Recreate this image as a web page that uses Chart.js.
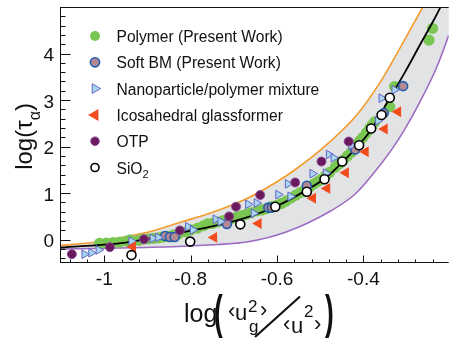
<!DOCTYPE html>
<html><head><meta charset="utf-8">
<script src="https://cdn.jsdelivr.net/npm/chart.js@4/dist/chart.umd.min.js"></script>
<style>html,body{margin:0;padding:0;background:#fff;}#wrap{width:455px;height:339px;position:relative;overflow:hidden}</style>
</head><body><div id="wrap"><canvas id="c" width="455" height="339"></canvas></div>
<script>
// ---------- data ----------
const polymerX = [-1.011,-0.995,-0.980,-0.964,-0.948,-0.940,-0.920,-0.910,-0.898,-0.886,-0.875,-0.864,-0.852,-0.840,-0.829,-0.811,-0.800,-0.784,-0.770,-0.761,-0.750,-0.738,-0.725,-0.715,-0.705,-0.693,-0.680,-0.670,-0.660,-0.647,-0.635,-0.624,-0.612,-0.601,-0.590,-0.579,-0.567,-0.556,-0.545,-0.533,-0.524,-0.515,-0.506,-0.497,-0.487,-0.478,-0.465,-0.456,-0.447,-0.437,-0.428,-0.420,-0.415,-0.408,-0.401,-0.393,-0.385,-0.380,-0.374,-0.339,-0.328,-0.248,-0.240];
const polymerY = [-0.08,-0.07,-0.06,-0.05,-0.03,0.00,-0.01,0.01,0.02,0.03,0.04,0.06,0.07,0.10,0.12,0.17,0.21,0.25,0.30,0.34,0.35,0.38,0.41,0.42,0.46,0.49,0.52,0.55,0.58,0.62,0.64,0.67,0.71,0.74,0.78,0.83,0.90,0.96,1.02,1.09,1.14,1.20,1.25,1.30,1.38,1.45,1.56,1.63,1.71,1.80,1.88,1.98,2.06,2.13,2.20,2.30,2.40,2.46,2.53,2.86,3.29,4.29,4.54];
const softBMX = [-0.859,-0.848,-0.837,-0.716,-0.620,-0.612,-0.531,-0.419,-0.353,-0.308];
const softBMY = [0.08,0.06,0.06,0.34,0.69,0.69,1.16,1.94,2.72,3.30];
const nanoX = [-1.046,-1.030,-1.013,-0.937,-0.888,-0.875,-0.806,-0.795,-0.742,-0.731,-0.667,-0.654,-0.647,-0.597,-0.575,-0.569,-0.518,-0.487,-0.480,-0.469,-0.428,-0.366,-0.358,-0.328];
const nanoY = [-0.31,-0.28,-0.22,-0.03,0.03,0.05,0.28,0.21,0.44,0.39,0.76,0.57,0.79,0.97,1.20,0.93,1.42,1.43,1.83,1.76,2.03,2.56,3.04,3.22];
const icoX = [-0.934,-0.746,-0.643,-0.517,-0.484,-0.441,-0.395,-0.351,-0.320];
const icoY = [-0.15,0.05,0.35,0.89,1.10,1.44,1.89,2.38,2.75];
const otpX = [-1.075,-0.987,-0.908,-0.825,-0.711,-0.695,-0.639,-0.558,-0.497,-0.434];
const otpY = [-0.31,-0.16,0.01,0.20,0.50,0.71,0.96,1.23,1.68,2.11];
const sio2X = [-0.937,-0.801,-0.685,-0.604,-0.531,-0.490,-0.449,-0.410,-0.382,-0.358,-0.339];
const sio2Y = [-0.33,-0.04,0.33,0.71,1.03,1.30,1.68,2.03,2.39,2.68,3.05];
const fitX = [-1.1025,-0.951,-0.829,-0.753,-0.677,-0.601,-0.533,-0.487,-0.449,-0.412,-0.381,-0.343,-0.305,-0.267,-0.237,-0.216];
const fitY = [-0.17,-0.06,0.14,0.28,0.46,0.72,1.06,1.33,1.66,2.02,2.38,2.98,3.58,4.22,4.72,5.1];
const upperX = [-1.1025,-1.027,-0.973,-0.8975,-0.822,-0.754,-0.677,-0.601,-0.556,-0.499,-0.419,-0.358,-0.305,-0.263,-0.255];
const upperY = [-0.125,-0.06,0.026,0.165,0.38,0.574,0.853,1.24,1.52,1.93,2.64,3.43,4.29,4.99,5.13];
const lowerX = [-1.1025,-0.966,-0.829,-0.738,-0.670,-0.579,-0.476,-0.419,-0.374,-0.335,-0.305,-0.267,-0.230,-0.2025];
const lowerY = [-0.20,-0.178,-0.146,-0.103,-0.05,0.165,0.617,0.982,1.455,1.93,2.36,3.0,3.71,4.39];
const xTickLabels = [-1, -0.8, -0.6, -0.4];
const yTickLabels = [0, 1, 2, 3, 4];
const legendLabels = ['Polymer (Present Work)','Soft BM (Present Work)','Nanoparticle/polymer mixture','Icosahedral glassformer','OTP','SiO'];
const legendSubs = ['','','','','','2'];

// ---------- axis ranges ----------
const xMin = -1.1025, xMax = -0.2025, yMin = -0.5, yMax = 5.0;

const FONT = '"Liberation Sans", Arial, Helvetica, sans-serif';
const pts = (xs, ys) => xs.map((x, i) => ({x, y: ys[i]}));

const ST = {
  polymer: {style:'circle', r:5.6, bg:'#7ac653', bc:'#7ac653', bw:0, rot:0, lr:5},
  softbm:  {style:'circle', r:4.5, bg:'#b38a91', bc:'#1f5cae', bw:1.6, rot:0, lr:4.6},
  nano:    {style:'triangle', r:5.0, bg:'#a6d7ee', bc:'#6664c8', bw:1, rot:90, lr:5.6},
  ico:     {style:'triangle', r:6.3, bg:'#f24c1e', bc:'#f24c1e', bw:0, rot:-90, lr:6.9},
  otp:     {style:'circle', r:4.5, bg:'#6a1a5c', bc:'#8d4e9c', bw:1, rot:0, lr:4.3},
  sio2:    {style:'circle', r:4.5, bg:'#ffffff', bc:'#000000', bw:1.6, rot:0, lr:4.0}
};

function scatterDs(label, data, s, order) {
  return {label, data, showLine:false, order,
    pointStyle:s.style, pointRadius:s.r, pointBackgroundColor:s.bg,
    pointBorderColor:s.bc, pointBorderWidth:s.bw, pointRotation:s.rot,
    backgroundColor:s.bg, borderColor:s.bc};
}

const bandData = pts(upperX, upperY)
  .concat([{x: xMax + 0.01, y: yMax + 0.2}])
  .concat(pts(lowerX, lowerY).reverse());

const datasets = [
  scatterDs('SiO2', pts(sio2X, sio2Y), ST.sio2, 0),
  scatterDs('OTP', pts(otpX, otpY), ST.otp, 1),
  scatterDs('Icosahedral glassformer', pts(icoX, icoY), ST.ico, 2),
  scatterDs('Nanoparticle/polymer mixture', pts(nanoX, nanoY), ST.nano, 3),
  scatterDs('Soft BM (Present Work)', pts(softBMX, softBMY), ST.softbm, 4),
  {label:'fit', data:pts(fitX, fitY), showLine:true, order:5, borderColor:'#000', borderWidth:1.8, pointRadius:0, cubicInterpolationMode:'monotone', fill:false},
  scatterDs('Polymer (Present Work)', pts(polymerX, polymerY), ST.polymer, 6),
  {label:'upper', data:pts(upperX, upperY), showLine:true, order:7, borderColor:'#f59a2c', borderWidth:1.6, pointRadius:0, cubicInterpolationMode:'monotone', fill:false},
  {label:'lower', data:pts(lowerX, lowerY), showLine:true, order:8, borderColor:'#9c6cc2', borderWidth:1.6, pointRadius:0, cubicInterpolationMode:'monotone', fill:false},
  {label:'band', data:bandData, showLine:true, order:9, borderColor:'rgba(0,0,0,0)', borderWidth:0.01, pointRadius:0, tension:0, backgroundColor:'#e2e3e5', fill:'shape'}
];

function drawMarker(ctx, s, x, y, r) {
  ctx.save();
  ctx.fillStyle = s.bg; ctx.strokeStyle = s.bc; ctx.lineWidth = s.bw || 0;
  ctx.beginPath();
  if (s.style === 'circle') {
    ctx.arc(x, y, r, 0, Math.PI * 2);
  } else {
    let rad = s.rot * Math.PI / 180;
    for (let k = 0; k < 3; k++) {
      const px = x + Math.sin(rad) * r, py = y - Math.cos(rad) * r;
      if (k === 0) ctx.moveTo(px, py); else ctx.lineTo(px, py);
      rad += 2 * Math.PI / 3;
    }
    ctx.closePath();
  }
  ctx.fill();
  if (s.bw) ctx.stroke();
  ctx.restore();
}

function tallParen(ctx, ch, x, cy) {
  ctx.save();
  ctx.translate(x, cy); ctx.scale(1.05, 1.85);
  ctx.font = 'bold 25px ' + FONT; ctx.textBaseline = 'middle'; ctx.textAlign = 'left';
  ctx.fillText(ch, 0, 0);
  ctx.restore();
}

const rootPlugin = {
  id: 'rootAxes',
  afterDraw(chart) {
    const {ctx, chartArea: a, scales: {x, y}} = chart;
    ctx.save();
    ctx.strokeStyle = '#111'; ctx.lineWidth = 1;
    ctx.beginPath();
    ctx.moveTo(a.left + 0.5, a.top); ctx.lineTo(a.left + 0.5, a.bottom);
    ctx.moveTo(a.left, a.bottom - 0.5); ctx.lineTo(a.right, a.bottom - 0.5);
    ctx.moveTo(a.left, a.top + 0.5); ctx.lineTo(a.right, a.top + 0.5);
    for (let k = Math.ceil(xMin / 0.04); k <= Math.floor(xMax / 0.04); k++) {
      const px = Math.round(x.getPixelForValue(k * 0.04)) + 0.5;
      const len = (k % 5 === 0) ? 7.5 : 3.5;
      ctx.moveTo(px, a.bottom); ctx.lineTo(px, a.bottom - len);
    }
    for (let k = Math.ceil(yMin / 0.2 - 1e-9); k <= Math.floor(yMax / 0.2 + 1e-9); k++) {
      const py = Math.round(y.getPixelForValue(k * 0.2)) + 0.5;
      const len = (k % 5 === 0) ? 10.5 : 5.5;
      ctx.moveTo(a.left, py); ctx.lineTo(a.left + len, py);
    }
    ctx.stroke();

    ctx.fillStyle = '#111';
    ctx.font = '19px ' + FONT;
    ctx.textAlign = 'center'; ctx.textBaseline = 'alphabetic';
    xTickLabels.forEach(v => ctx.fillText(String(v), x.getPixelForValue(v), 285));
    ctx.textAlign = 'right';
    yTickLabels.forEach(v => ctx.fillText(String(v), 54, y.getPixelForValue(v) + 7.5));

    const lsty = [ST.polymer, ST.softbm, ST.nano, ST.ico, ST.otp, ST.sio2];
    ctx.textAlign = 'left';
    legendLabels.forEach((t, i) => {
      const base = 42 + 26.3 * i;
      drawMarker(ctx, lsty[i], 95, base - 6, lsty[i].lr);
      ctx.fillStyle = '#111';
      ctx.font = '15.6px ' + FONT;
      ctx.fillText(t, 116.5, base);
      if (legendSubs[i]) {
        const w = ctx.measureText(t).width;
        ctx.font = '11px ' + FONT;
        ctx.fillText(legendSubs[i], 116.5 + w, base + 4);
      }
    });

    // y title
    ctx.save();
    ctx.translate(31.5, 136.5); ctx.rotate(-Math.PI / 2);
    ctx.textAlign = 'left';
    ctx.font = '24px ' + FONT;
    const w1 = ctx.measureText('log(\u03c4').width;
    ctx.font = '16px ' + FONT;
    const w2 = ctx.measureText('\u03b1').width;
    ctx.font = '24px ' + FONT;
    const w3 = ctx.measureText(')').width;
    let sx = -(w1 + w2 + w3) / 2;
    ctx.fillText('log(\u03c4', sx, 0);
    ctx.font = '16px ' + FONT; ctx.fillText('\u03b1', sx + w1, 8);
    ctx.font = '24px ' + FONT; ctx.fillText(')', sx + w1 + w2, 0);
    ctx.restore();

    // x title
    ctx.textAlign = 'left';
    ctx.font = '25px ' + FONT;
    ctx.fillText('log', 184, 322);
    tallParen(ctx, '(', 214, 315.5);
    ctx.font = '22px ' + FONT;
    ctx.fillText('\u2039', 228, 318);
    ctx.fillText('u', 235, 320);
    ctx.font = '17px ' + FONT;
    ctx.fillText('2', 248, 312);
    ctx.fillText('g', 249, 332);
    ctx.font = '22px ' + FONT;
    ctx.fillText('\u203a', 260, 317);
    ctx.lineWidth = 2.2; ctx.strokeStyle = '#111';
    ctx.beginPath(); ctx.moveTo(255, 337); ctx.lineTo(300, 296.5); ctx.stroke();
    ctx.font = '22px ' + FONT;
    ctx.fillText('\u2039', 283, 331);
    ctx.fillText('u', 291, 333);
    ctx.font = '17px ' + FONT;
    ctx.fillText('2', 304, 317);
    ctx.font = '22px ' + FONT;
    ctx.fillText('\u203a', 314, 331);
    tallParen(ctx, ')', 325, 315.5);
    ctx.restore();
  }
};

new Chart(document.getElementById('c'), {
  type: 'scatter',
  data: {datasets},
  options: {
    responsive: false, animation: false, events: [],
    devicePixelRatio: 1,
    layout: {padding: {left: 60, top: 7, right: 0, bottom: 76}},
    plugins: {legend: {display: false}, tooltip: {enabled: false}, title: {display: false}},
    scales: {
      x: {type: 'linear', min: xMin, max: xMax, display: false},
      y: {type: 'linear', min: yMin, max: yMax, display: false}
    }
  },
  plugins: [rootPlugin]
});
</script></body></html>
